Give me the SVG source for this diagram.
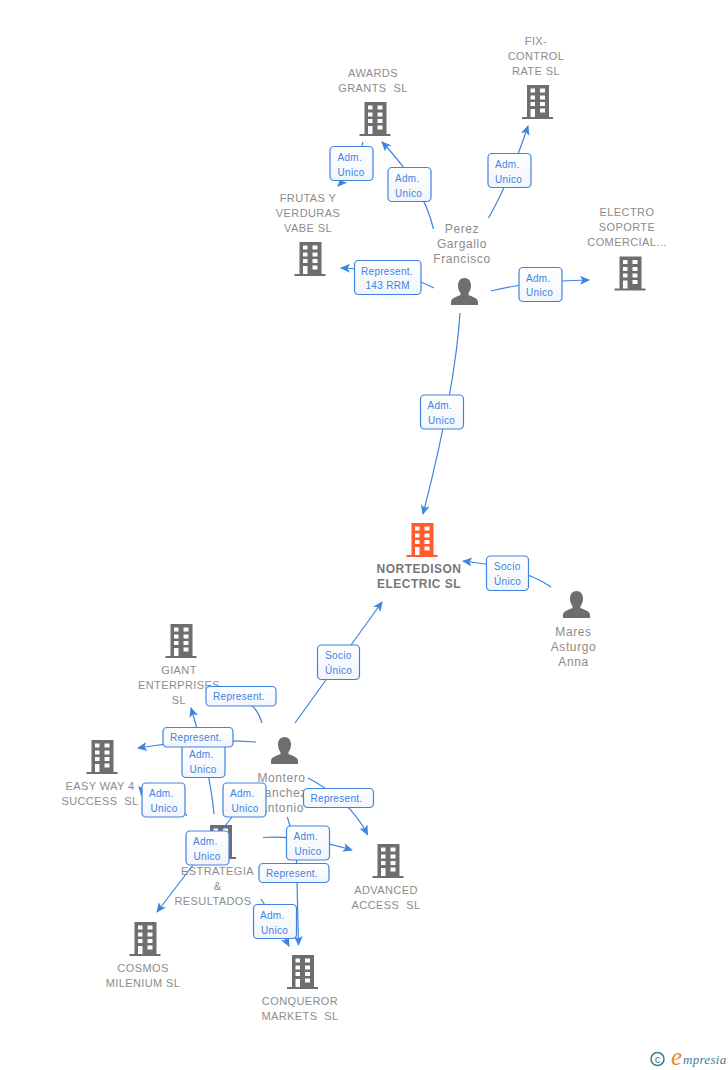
<svg xmlns="http://www.w3.org/2000/svg" width="728" height="1070" viewBox="0 0 728 1070">
<style>
text{font-family:"Liberation Sans",Arial,sans-serif}
.n{font-size:11px;letter-spacing:.4px;fill:#8c8c8c;text-anchor:middle}
.p{font-size:12px;letter-spacing:.6px;fill:#8c8c8c;text-anchor:middle}
.m{font-size:12px;letter-spacing:.5px;fill:#777;font-weight:bold;text-anchor:middle}
.e{font-size:10px;letter-spacing:.3px;fill:#3f83e0}
.b{fill:url(#g);stroke:#3f83e0;stroke-width:1.2}
.c{fill:none;stroke:#3f83e0;stroke-width:1.2}
.a{marker-end:url(#ar)}
</style>
<defs>
<linearGradient id="g" x1="0" y1="0" x2="0" y2="1"><stop offset="0" stop-color="#fff"/><stop offset="1" stop-color="#f1f5fb"/></linearGradient>
<marker id="ar" markerUnits="userSpaceOnUse" markerWidth="12" markerHeight="12" refX="9" refY="5" orient="auto"><path d="M0 0.5L10 5L0 9.5L2.5 5z" fill="#3f83e0"/></marker>
<symbol id="bld" viewBox="0 0 31 34" width="31" height="34" overflow="visible">
<path fill-rule="evenodd" d="M5 0H27V32H31V34H0V32H5ZM8.500 3.500V7.500H13V3.500ZM18 3.500V7.500H23V3.500ZM8.500 10.500V14.500H13V10.500ZM18 10.500V14.500H23V10.500ZM8.500 17V21H13V17ZM18 17V21H23V17ZM8.500 24V32H13V24ZM18 23.500V27.500H23V23.500Z"/>
</symbol>
<symbol id="per" viewBox="0 0 27 27" width="27" height="27">
<path d="M13.500 0C9.500 0 7 3 7 7.500C7 10.500 8 13 9.500 15V17C7 18.500 0 19.500 0 24V27H27V24C27 19.500 20 18.500 17.500 17V15C19 13 20 10.500 20 7.500C20 3 17.500 0 13.500 0Z" fill="#6e6e6e"/>
</symbol>
</defs>
<rect width="728" height="1070" fill="#fff"/>
<g id="node-awards" fill="#6e6e6e"><use href="#bld" x="359.500" y="102"/><text class="n" x="373" y="77">AWARDS</text><text class="n" x="373" y="92">GRANTS &#160;SL</text></g>
<g id="node-fix" fill="#6e6e6e"><use href="#bld" x="522" y="85"/><text class="n" x="536" y="45">FIX-</text><text class="n" x="536" y="60">CONTROL</text><text class="n" x="536" y="75">RATE SL</text></g>
<g id="node-frutas" fill="#6e6e6e"><use href="#bld" x="294.500" y="242"/><text class="n" x="308" y="202">FRUTAS Y</text><text class="n" x="308" y="217">VERDURAS</text><text class="n" x="308" y="232">VABE SL</text></g>
<g id="node-electro" fill="#6e6e6e"><use href="#bld" x="614.500" y="256.500"/><text class="n" x="627" y="216">ELECTRO</text><text class="n" x="627" y="231">SOPORTE</text><text class="n" x="627" y="246">COMERCIAL...</text></g>
<g id="node-perez"><use href="#per" x="451" y="278"/><text class="p" x="462" y="233">Perez</text><text class="p" x="462" y="248">Gargallo</text><text class="p" x="462" y="263">Francisco</text></g>
<g id="node-nortedison" fill="#ff5c2e"><use href="#bld" x="406.500" y="523"/><text class="m" x="419" y="573">NORTEDISON</text><text class="m" x="419" y="588">ELECTRIC SL</text></g>
<g id="node-mares"><use href="#per" x="563" y="591"/><text class="p" x="573.500" y="636">Mares</text><text class="p" x="573.500" y="651">Asturgo</text><text class="p" x="573.500" y="666">Anna</text></g>
<g id="node-giant" fill="#6e6e6e"><use href="#bld" x="165.500" y="624"/><text class="n" x="179" y="674">GIANT</text><text class="n" x="179" y="689">ENTERPRISES</text><text class="n" x="179" y="704">SL</text></g>
<g id="node-easy" fill="#6e6e6e"><use href="#bld" x="86.500" y="740"/><text class="n" x="100" y="790">EASY WAY 4</text><text class="n" x="100" y="805">SUCCESS &#160;SL</text></g>
<g id="node-montero"><use href="#per" x="271" y="737"/><text class="p" x="281.500" y="782">Montero</text><text class="p" x="281.500" y="797">Sanchez</text><text class="p" x="281.500" y="812">Antonio</text></g>
<g id="node-estrategia" fill="#6e6e6e"><use href="#bld" x="205" y="825"/><text class="n" x="217.500" y="875">ESTRATEGIA</text><text class="n" x="217.500" y="890">&amp;</text><text class="n" x="213" y="905">RESULTADOS</text></g>
<g id="node-advanced" fill="#6e6e6e"><use href="#bld" x="372.500" y="844"/><text class="n" x="386" y="894">ADVANCED</text><text class="n" x="386" y="909">ACCESS &#160;SL</text></g>
<g id="node-cosmos" fill="#6e6e6e"><use href="#bld" x="129.500" y="922"/><text class="n" x="143" y="972">COSMOS</text><text class="n" x="143" y="987">MILENIUM SL</text></g>
<g id="node-conqueror" fill="#6e6e6e"><use href="#bld" x="287" y="955"/><text class="n" x="300" y="1005">CONQUEROR</text><text class="n" x="300" y="1020">MARKETS &#160;SL</text></g>
<g id="connectors">
<path class="c a" d="M363 142Q358 165 338 186"/>
<path class="c a" d="M433.500 229Q423 185 382 142"/>
<path class="c a" d="M488.500 218Q510 180 528 126"/>
<path class="c a" d="M434 288Q400 270 341 268"/>
<path class="c a" d="M491 291Q530 281 589 280"/>
<path class="c a" d="M460 313Q455 390 423 514"/>
<path class="c a" d="M551 587Q525 568 463 561"/>
<path class="c a" d="M295 723L382 602"/>
<path class="c" d="M262 723Q258 710 250 704"/>
<path class="c a" d="M214 814Q210 770 191 708"/>
<path class="c a" d="M256 742Q200 738 138 748"/>
<path class="c" d="M187 816L184 812"/>
<path class="c a" d="M150 800L139 787"/>
<path class="c" d="M232 817L222 830"/>
<path class="c a" d="M193 865L157 912"/>
<path class="c a" d="M263 837.500Q300 835 352 850"/>
<path class="c" d="M287.300 817L290 826"/>
<path class="c a" d="M308 778Q350 800 367.500 834.500"/>
<path class="c a" d="M296.500 860L298.500 945"/>
<path class="c a" d="M261 899Q278 925 289 946"/>
</g>
<g id="edge-labels">
<g><rect class="b" x="330" y="146.500" width="43" height="34" rx="4"/><text class="e" x="337.500" y="160.500">Adm.</text><text class="e" x="337.500" y="175.500">Unico</text></g>
<g><rect class="b" x="388" y="167.500" width="43" height="34" rx="4"/><text class="e" x="395" y="181.500">Adm.</text><text class="e" x="395" y="196.500">Unico</text></g>
<g><rect class="b" x="488" y="153.500" width="43" height="34" rx="4"/><text class="e" x="495" y="167.500">Adm.</text><text class="e" x="495" y="182.500">Unico</text></g>
<g><rect class="b" x="354.500" y="260.500" width="66.500" height="34" rx="4"/><text class="e" x="361" y="274.500">Represent.</text><text class="e" x="365.500" y="289">143 RRM</text></g>
<g><rect class="b" x="519" y="267.500" width="43" height="34" rx="4"/><text class="e" x="526" y="281.500">Adm.</text><text class="e" x="526" y="296">Unico</text></g>
<g><rect class="b" x="420.500" y="395" width="43" height="34" rx="4"/><text class="e" x="427.500" y="409">Adm.</text><text class="e" x="428" y="424">Unico</text></g>
<g><rect class="b" x="486.500" y="556" width="42" height="34.500" rx="4"/><text class="e" x="494" y="570">Socio</text><text class="e" x="494" y="585">Único</text></g>
<g><rect class="b" x="317.500" y="645" width="42" height="34.500" rx="4"/><text class="e" x="325" y="659">Socio</text><text class="e" x="325" y="674">Único</text></g>
<g><rect class="b" x="206" y="686.500" width="70" height="19.500" rx="4"/><text class="e" x="213" y="700">Represent.</text></g>
<g><rect class="b" x="182" y="743.500" width="43" height="34" rx="4"/><text class="e" x="189" y="757.500">Adm.</text><text class="e" x="189.500" y="772.500">Unico</text></g>
<g><rect class="b" x="163" y="727.500" width="70" height="19.500" rx="4"/><text class="e" x="170" y="741">Represent.</text></g>
<g><rect class="b" x="142" y="783" width="43" height="34" rx="4"/><text class="e" x="149" y="797">Adm.</text><text class="e" x="150.500" y="812">Unico</text></g>
<g><rect class="b" x="223" y="783" width="43" height="34" rx="4"/><text class="e" x="230" y="797">Adm.</text><text class="e" x="231.500" y="812">Unico</text></g>
<g><rect class="b" x="186" y="831" width="43" height="34" rx="4"/><text class="e" x="193" y="845">Adm.</text><text class="e" x="193.500" y="860">Unico</text></g>
<g><rect class="b" x="303.500" y="788.500" width="70" height="19" rx="4"/><text class="e" x="310.500" y="801.500">Represent.</text></g>
<g><rect class="b" x="286.500" y="826" width="43" height="34" rx="4"/><text class="e" x="293.500" y="840">Adm.</text><text class="e" x="294.500" y="855">Unico</text></g>
<g><rect class="b" x="259" y="863.500" width="70" height="19" rx="4"/><text class="e" x="266" y="876.500">Represent.</text></g>
<g><rect class="b" x="253.500" y="904.500" width="43" height="34" rx="4"/><text class="e" x="260" y="918.500">Adm.</text><text class="e" x="261" y="933.500">Unico</text></g>
</g>
<g id="logo">
<circle cx="657.500" cy="1059" r="6.500" fill="none" stroke="#3d7d96" stroke-width="1.500"/>
<text x="657.500" y="1063" font-size="11" fill="#3d7d96" text-anchor="middle">c</text>
<text x="671" y="1065" font-size="25" font-style="italic" fill="#f08a1d" style="font-family:'Liberation Serif',serif">e</text>
<text x="683" y="1064" font-size="13" font-style="italic" fill="#3d7d96" letter-spacing=".3" style="font-family:'Liberation Serif',serif">mpresia</text>
</g>
</svg>
